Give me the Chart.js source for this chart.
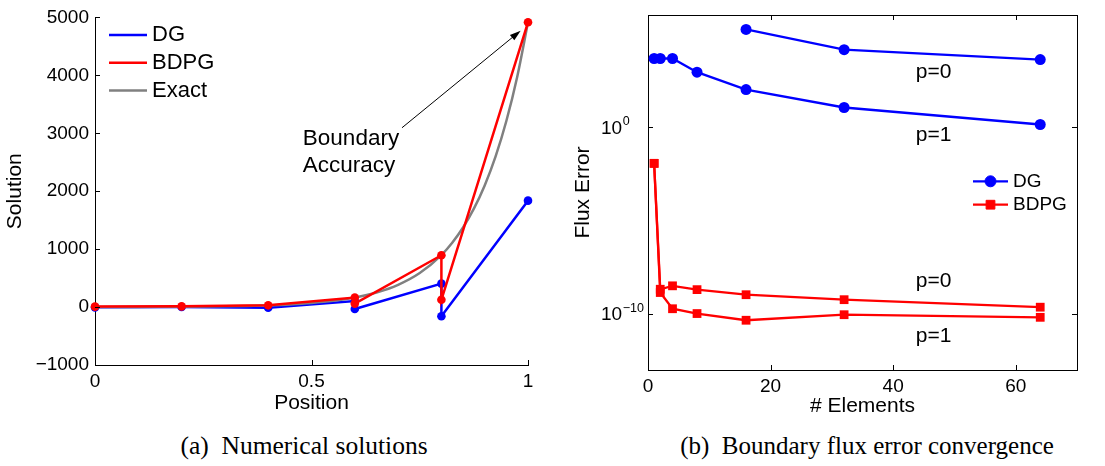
<!DOCTYPE html>
<html>
<head>
<meta charset="utf-8">
<script src="https://cdn.jsdelivr.net/npm/chart.js@4.4.1/dist/chart.umd.min.js"></script>
<style>
  body { margin: 0; background: #fff; width: 1105px; height: 466px; overflow: hidden; position: relative; }
  .pane { position: absolute; top: 0; }
  .cap { position: absolute; top: 431px; height: 30px; line-height: 30px; text-align: center;
         font-family: 'Liberation Serif', 'Times New Roman', serif; font-size: 25px; color: #000; white-space: pre; }
</style>
</head>
<body>
<div class="pane" style="left:0"><canvas id="solChart" width="560" height="420"></canvas></div>
<div class="pane" style="left:560px"><canvas id="errChart" width="545" height="420"></canvas></div>
<div class="cap" style="left:0; width:608px; font-size:25.5px">(a)  Numerical solutions</div>
<div class="cap" style="left:630px; width:474px">(b)  Boundary flux error convergence</div>
<script>
// (a) solutions, discontinuous per element
let posDG = [0, 0.2, 0.4, 0.6, 0.6, 0.8, 0.8, 1];
let solDG = [-5, 0, -10, 105, -33, 404, -159, 1837];
let posBDPG = [0, 0.2, 0.4, 0.6, 0.6, 0.8, 0.8, 1];
let solBDPG = [8, 12, 30, 165, 60, 894, 126, 4915];
let exactX = [0, 0.05, 0.1, 0.15, 0.2, 0.25, 0.3, 0.35, 0.4, 0.45, 0.5, 0.55, 0.6, 0.65, 0.7, 0.75, 0.8, 0.825, 0.85, 0.875, 0.9, 0.925, 0.95, 0.975, 1];
let exactY = [1, 1.53, 2.34, 3.58, 5.47, 8.37, 12.8, 19.6, 30, 45.8, 70.1, 107, 164, 251, 384, 587, 898, 1110, 1373, 1698, 2100, 2597, 3212, 3973, 4915];
let posTicks = [0, 0.5, 1];
let posTickLabels = ['0', '0.5', '1'];
let solTicks = [-1000, 0, 1000, 2000, 3000, 4000, 5000];
let solTickLabels = ['\u22121000', '0', '1000', '2000', '3000', '4000', '5000'];

// (b) flux error vs number of elements
let elemsDG0 = [16, 32, 64];
let errDG0 = [1.7e5, 1.4e4, 4.1e3];
let elemsDG1 = [1, 2, 4, 8, 16, 32, 64];
let errDG1 = [4.7e3, 4.7e3, 4.7e3, 870, 102, 11.2, 1.38];
let elemsBD = [1, 2, 4, 8, 16, 32, 64];
let errBD0 = [1.15e-2, 2.1e-9, 3.2e-9, 2.0e-9, 1.07e-9, 5.8e-10, 2.3e-10];
let errBD1 = [1.15e-2, 1.4e-9, 1.9e-10, 1.05e-10, 4.6e-11, 9.1e-11, 6.6e-11];
let elemTicks = [0, 20, 40, 60];
let elemTickLabels = ['0', '20', '40', '60'];
let errTicks = [1e-10, 1];
let errTickLabels = [['10', '\u221210'], ['10', '0']]; // base, exponent

const sans = "'Liberation Sans', Arial, sans-serif";
Chart.defaults.font.family = sans;
Chart.defaults.font.size = 19;
Chart.defaults.color = '#000';

function pts(xs, ys) {
  return xs.map((x, i) => ({x: x, y: ys[i]}));
}

// MATLAB style ticks pointing into the plot, optional full box
const inTicks = {
  id: 'inTicks',
  afterDraw(chart, args, o) {
    const {ctx, chartArea: a, scales} = chart;
    ctx.save();
    ctx.strokeStyle = '#000';
    ctx.lineWidth = 1;
    ctx.beginPath();
    scales.x.ticks.forEach(t => {
      const px = Math.round(scales.x.getPixelForValue(t.value)) + 0.5;
      ctx.moveTo(px, a.bottom); ctx.lineTo(px, a.bottom - o.len);
      if (o.box) { ctx.moveTo(px, a.top); ctx.lineTo(px, a.top + o.len); }
    });
    scales.y.ticks.forEach(t => {
      const py = Math.round(scales.y.getPixelForValue(t.value)) + 0.5;
      ctx.moveTo(a.left, py); ctx.lineTo(a.left + o.len, py);
      if (o.box) { ctx.moveTo(a.right, py); ctx.lineTo(a.right - o.len, py); }
    });
    if (o.box) {
      ctx.moveTo(a.left, Math.round(a.top) + 0.5); ctx.lineTo(a.right, Math.round(a.top) + 0.5);
      ctx.moveTo(Math.round(a.right) + 0.5, a.top); ctx.lineTo(Math.round(a.right) + 0.5, a.bottom);
    }
    ctx.stroke();
    ctx.restore();
  }
};

// 10^n tick labels with a raised exponent
const powLabels = {
  id: 'powLabels',
  afterDraw(chart, args, o) {
    if (!o.labels) return;
    const {ctx, scales} = chart;
    ctx.save();
    ctx.fillStyle = '#000';
    ctx.textAlign = 'left';
    ctx.textBaseline = 'alphabetic';
    scales.y.ticks.forEach((t, i) => {
      const py = scales.y.getPixelForValue(t.value);
      ctx.font = o.baseFont;
      ctx.fillText(o.labels[i][0], o.x, py + 6.5);
      const w = ctx.measureText(o.labels[i][0]).width;
      ctx.font = o.expFont;
      ctx.fillText(o.labels[i][1], o.x + w + 0.5, py - 2);
    });
    ctx.restore();
  }
};

// legend drawn inside the axes
const boxLegend = {
  id: 'boxLegend',
  afterDraw(chart, args, o) {
    const ctx = chart.ctx;
    ctx.save();
    ctx.font = o.font;
    ctx.textBaseline = 'middle';
    o.items.forEach((idx, i) => {
      const ds = chart.data.datasets[idx];
      const y = o.y + i * o.gap;
      ctx.strokeStyle = ds.borderColor;
      ctx.lineWidth = ds.borderWidth;
      ctx.beginPath();
      ctx.moveTo(o.x, y); ctx.lineTo(o.x + o.len, y);
      ctx.stroke();
      if (o.marker) {
        ctx.fillStyle = ds.backgroundColor;
        ctx.lineWidth = 1;
        Chart.helpers.drawPoint(ctx, {pointStyle: ds.pointStyle, radius: ds.pointRadius, borderWidth: 1, rotation: 0}, o.x + o.len / 2, y);
      }
      ctx.fillStyle = '#000';
      ctx.fillText(ds.label, o.x + o.len + o.pad, y);
    });
    ctx.restore();
  }
};

// text labels and arrows placed in data coordinates
const notes = {
  id: 'notes',
  afterDraw(chart, args, o) {
    const {ctx, scales} = chart;
    ctx.save();
    ctx.fillStyle = '#000';
    ctx.textBaseline = 'middle';
    ctx.textAlign = 'left';
    ctx.font = o.font;
    (o.texts || []).forEach(t => {
      ctx.fillText(t.text, scales.x.getPixelForValue(t.x), scales.y.getPixelForValue(t.y));
    });
    (o.arrows || []).forEach(ar => {
      const x1 = scales.x.getPixelForValue(ar.x1), y1 = scales.y.getPixelForValue(ar.y1);
      const x2 = scales.x.getPixelForValue(ar.x2), y2 = scales.y.getPixelForValue(ar.y2);
      const ang = Math.atan2(y2 - y1, x2 - x1);
      ctx.strokeStyle = '#000';
      ctx.lineWidth = 1;
      ctx.beginPath();
      ctx.moveTo(x1, y1); ctx.lineTo(x2 - 6 * Math.cos(ang), y2 - 6 * Math.sin(ang));
      ctx.stroke();
      ctx.beginPath();
      ctx.moveTo(x2, y2);
      ctx.lineTo(x2 - 11 * Math.cos(ang) + 3.5 * Math.sin(ang), y2 - 11 * Math.sin(ang) - 3.5 * Math.cos(ang));
      ctx.lineTo(x2 - 11 * Math.cos(ang) - 3.5 * Math.sin(ang), y2 - 11 * Math.sin(ang) + 3.5 * Math.cos(ang));
      ctx.closePath();
      ctx.fill();
    });
    ctx.restore();
  }
};

const blue = '#0000ff';
const red = '#ff0000';
const gray = '#808080';

new Chart(document.getElementById('solChart'), {
  type: 'scatter',
  data: {
    datasets: [
      {label: 'DG', data: pts(posDG, solDG), showLine: true, borderColor: blue, backgroundColor: blue,
       borderWidth: 2.5, pointRadius: 4.3, pointBorderWidth: 0, order: 2, clip: false},
      {label: 'BDPG', data: pts(posBDPG, solBDPG), showLine: true, borderColor: red, backgroundColor: red,
       borderWidth: 2.5, pointRadius: 4.3, pointBorderWidth: 0, order: 0, clip: false},
      {label: 'Exact', data: pts(exactX, exactY), showLine: true, borderColor: gray, backgroundColor: gray,
       borderWidth: 2.5, pointRadius: 0, cubicInterpolationMode: 'monotone', order: 1, clip: false}
    ]
  },
  options: {
    responsive: false,
    animation: false,
    events: [],
    layout: {padding: {left: 0, right: 32, top: 13, bottom: 0}},
    plugins: {
      legend: {display: false},
      tooltip: {enabled: false},
      inTicks: {len: 5, box: false},
      boxLegend: {items: [0, 1, 2], x: 109, y: 35, gap: 27.8, len: 38, pad: 5, font: '22px ' + sans, marker: false},
      notes: {
        font: '22.5px ' + sans,
        texts: [{x: 0.48, y: 2896, text: 'Boundary'}, {x: 0.48, y: 2442, text: 'Accuracy'}],
        arrows: [{x1: 0.709, y1: 3095, x2: 0.983, y2: 4771}]
      }
    },
    scales: {
      x: {
        type: 'linear', min: 0, max: 1,
        afterBuildTicks: s => { s.ticks = posTicks.map(v => ({value: v})); },
        afterFit: s => { s.height = 55; },
        grid: {display: false, drawTicks: false},
        border: {color: '#000', width: 1},
        ticks: {padding: 5, callback: (v, i) => posTickLabels[i]},
        title: {display: true, text: 'Position', font: {size: 21}, padding: {top: 0, bottom: 4}}
      },
      y: {
        type: 'linear', min: -1000, max: 5000,
        afterBuildTicks: s => { s.ticks = solTicks.map(v => ({value: v})); },
        afterFit: s => { s.width = 95; },
        grid: {display: false, drawTicks: false},
        border: {color: '#000', width: 1},
        ticks: {padding: 6, callback: (v, i) => solTickLabels[i]},
        title: {display: true, text: 'Solution', font: {size: 21}, padding: {top: 3, bottom: 0}}
      }
    }
  },
  plugins: [inTicks, boxLegend, notes]
});

new Chart(document.getElementById('errChart'), {
  type: 'scatter',
  data: {
    datasets: [
      {label: 'DG', data: pts(elemsDG0, errDG0), showLine: true, borderColor: blue, backgroundColor: blue,
       borderWidth: 2.3, pointRadius: 5.5, pointBorderWidth: 0, pointStyle: 'circle', clip: false},
      {label: 'DG', data: pts(elemsDG1, errDG1), showLine: true, borderColor: blue, backgroundColor: blue,
       borderWidth: 2.3, pointRadius: 5.5, pointBorderWidth: 0, pointStyle: 'circle', clip: false},
      {label: 'BDPG', data: pts(elemsBD, errBD0), showLine: true, borderColor: red, backgroundColor: red,
       borderWidth: 2.3, pointRadius: 6.2, pointBorderWidth: 0, pointStyle: 'rect', clip: false},
      {label: 'BDPG', data: pts(elemsBD, errBD1), showLine: true, borderColor: red, backgroundColor: red,
       borderWidth: 2.3, pointRadius: 6.2, pointBorderWidth: 0, pointStyle: 'rect', clip: false}
    ]
  },
  options: {
    responsive: false,
    animation: false,
    events: [],
    layout: {padding: {left: 43, right: 28, top: 15, bottom: 0}},
    plugins: {
      legend: {display: false},
      tooltip: {enabled: false},
      inTicks: {len: 5, box: true},
      powLabels: {labels: errTickLabels, x: 41, baseFont: '19px ' + sans, expFont: '12.5px ' + sans},
      boxLegend: {items: [0, 2], x: 413, y: 181.3, gap: 23.4, len: 35, pad: 5, font: '19px ' + sans, marker: true},
      notes: {
        font: '21px ' + sans,
        texts: [
          {x: 43.7, y: 891, text: 'p=0'},
          {x: 43.7, y: 0.37, text: 'p=1'},
          {x: 43.7, y: 5.5e-9, text: 'p=0'},
          {x: 43.7, y: 6.3e-12, text: 'p=1'}
        ]
      }
    },
    scales: {
      x: {
        type: 'linear', min: 0, max: 70,
        afterBuildTicks: s => { s.ticks = elemTicks.map(v => ({value: v})); },
        afterFit: s => { s.height = 50; },
        grid: {display: false, drawTicks: false},
        border: {color: '#000', width: 1},
        ticks: {padding: 5, callback: (v, i) => elemTickLabels[i]},
        title: {display: true, text: '# Elements', font: {size: 21}, padding: {top: 0, bottom: 1}}
      },
      y: {
        type: 'logarithmic', min: 1e-13, max: 1e6,
        afterBuildTicks: s => { s.ticks = errTicks.map(v => ({value: v})); },
        afterFit: s => { s.width = 45; },
        grid: {display: false, drawTicks: false},
        border: {color: '#000', width: 1},
        ticks: {display: false},
        title: {display: true, text: 'Flux Error', font: {size: 21}, padding: {top: -32.3, bottom: 0}}
      }
    }
  },
  plugins: [inTicks, powLabels, boxLegend, notes]
});
</script>
</body>
</html>
